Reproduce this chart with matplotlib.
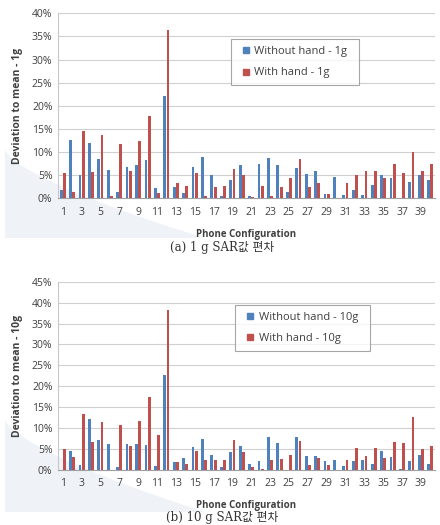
import matplotlib
matplotlib.use("Agg")
import matplotlib.pyplot as plt
from matplotlib.lines import Line2D
from matplotlib.patches import Polygon
import numpy as np

categories = list(range(1, 41))

without_1g = [1.9, 12.7, 5.0, 12.0, 8.5, 6.1, 1.4, 6.7, 7.1, 8.2,
              2.3, 22.1, 2.5, 1.2, 6.8, 9.0, 5.0, 0.4, 3.9, 7.3,
              0.4, 7.4, 8.8, 7.2, 1.4, 6.6, 5.3, 5.8, 0.9, 4.5,
              0.8, 1.7, 0.8, 2.9, 5.1, 4.4, 0.0, 3.5, 5.1, 4.0]
with_1g = [5.5, 1.4, 14.5, 5.6, 13.7, 0.5, 11.7, 5.8, 12.4, 17.9,
           1.1, 36.3, 3.3, 2.7, 5.5, 0.5, 2.4, 2.7, 6.4, 5.0,
           0.2, 2.7, 0.4, 2.4, 4.3, 8.4, 2.5, 3.2, 0.9, 0.0,
           3.4, 5.1, 5.8, 5.8, 4.3, 7.4, 5.5, 10.1, 5.8, 7.5]

without_10g = [0.0, 4.5, 1.1, 12.2, 7.1, 6.3, 0.6, 6.1, 6.1, 6.0,
               0.9, 22.7, 1.8, 2.9, 5.4, 7.3, 3.7, 0.6, 4.4, 5.7,
               1.4, 2.1, 8.0, 6.4, 0.1, 8.0, 3.3, 3.3, 2.1, 2.4,
               1.0, 2.1, 2.5, 1.5, 4.5, 3.0, 0.2, 2.2, 3.5, 1.5]
with_10g = [4.9, 3.0, 13.5, 6.6, 11.5, 0.0, 10.7, 5.7, 11.6, 17.4,
            8.3, 38.3, 2.0, 1.5, 4.5, 2.5, 2.4, 2.5, 7.2, 4.4,
            0.7, 0.3, 2.5, 2.6, 3.5, 6.9, 1.1, 2.9, 1.1, 0.0,
            2.5, 5.3, 3.4, 5.3, 2.8, 6.8, 6.5, 12.6, 5.0, 5.7]

xtick_labels = [str(c) for c in categories[::2]]

BLUE = "#4F81BD"
RED = "#C0504D"
TXT = "#404040"
FONT = "Open Sans"

W, H = 440, 525
fig = plt.figure(figsize=(W / 100, H / 100), dpi=100)
fig.patch.set_facecolor("white")


def swoosh(y_top_px, y_bot_px):
    # faint decorative background sweep in the lower-left of each chart area
    t = np.linspace(0, 1, 60)
    xs = 5 + 200 * t
    ys = y_top_px + (y_bot_px - y_top_px) * (t ** 0.7)
    pts = [(x / W, 1 - y / H) for x, y in zip(xs, ys)]
    pts += [(205 / W, 1 - y_bot_px / H), (5 / W, 1 - y_bot_px / H)]
    fig.patches.append(Polygon(pts, closed=True, transform=fig.transFigure,
                               facecolor="#EFF3F8", edgecolor="none",
                               zorder=-5))


swoosh(150, 238)
swoosh(420, 512)


def panel(rect, wo, wi, ymax, ylabel, lab_wo, lab_wi, leg_anchor):
    ax = fig.add_axes(rect)
    x = np.array(categories)
    bw = 0.3
    ax.bar(x - bw / 2 - 0.02, wo, width=bw, color=BLUE, zorder=3)
    ax.bar(x + bw / 2 + 0.02, wi, width=bw, color=RED, zorder=3)
    ax.set_xlim(0.5, 40.5)
    ax.set_ylim(0, ymax)
    yt = np.arange(0, ymax + 0.1, 5)
    ax.set_yticks(yt)
    ax.set_yticklabels([f"{int(v)}%" for v in yt],
                       fontsize=7.5, color=TXT, family=FONT)
    ax.set_xticks(categories[::2])
    ax.set_xticklabels(xtick_labels, fontsize=7.5, color=TXT, family=FONT)
    ax.tick_params(axis="x", length=0, pad=6)
    ax.tick_params(axis="y", length=0, pad=4)
    ax.grid(axis="y", color="#D0D0D0", linewidth=0.8, zorder=0)
    for s in ["top", "right"]:
        ax.spines[s].set_visible(False)
    ax.spines["left"].set_color("#C8C8C8")
    ax.spines["bottom"].set_color("#A0A0A0")
    ax.set_facecolor("none")
    ax.set_ylabel(ylabel, fontsize=7.5, fontweight="bold", color=TXT,
                  family=FONT, labelpad=6)
    ax.set_xlabel("Phone Configuration", fontsize=7, fontweight="bold",
                  color=TXT, family=FONT, labelpad=8)
    handles = [Line2D([], [], marker="s", linestyle="none", markersize=5,
                      color=BLUE),
               Line2D([], [], marker="s", linestyle="none", markersize=5,
                      color=RED)]
    leg = ax.legend(handles, [lab_wo + "  ", lab_wi + "  "],
                    loc="upper left", bbox_to_anchor=leg_anchor,
                    prop={"family": FONT, "size": 8}, frameon=True,
                    fancybox=False, edgecolor="#909090", handlelength=1.5,
                    handletextpad=0.0, borderpad=0.6,
                    labelspacing=0.95, borderaxespad=0)
    for t in leg.get_texts():
        t.set_color(TXT)
    leg.get_frame().set_linewidth(0.8)
    return ax


panel([58 / W, 1 - 198.3 / H, 377 / W, 185 / H], without_1g, with_1g, 40,
      "Deviation to mean - 1g", "Without hand - 1g", "With hand - 1g",
      (0.458, 0.86))
panel([58 / W, 1 - 470 / H, 377 / W, 188.3 / H], without_10g, with_10g, 45,
      "Deviation to mean - 10g", "Without hand - 10g", "With hand - 10g",
      (0.47, 0.876))

cap_font = ["DejaVu Serif", "Noto Sans CJK KR"]
fig.text(0.505, 1 - 247 / H, "(a) 1 g SAR값 편차", ha="center", va="center",
         fontsize=8.5, color="#333333", family=cap_font)
fig.text(0.505, 1 - 517 / H, "(b) 10 g SAR값 편차", ha="center", va="center",
         fontsize=8.5, color="#333333", family=cap_font)

fig.savefig("out.png", dpi=100)
